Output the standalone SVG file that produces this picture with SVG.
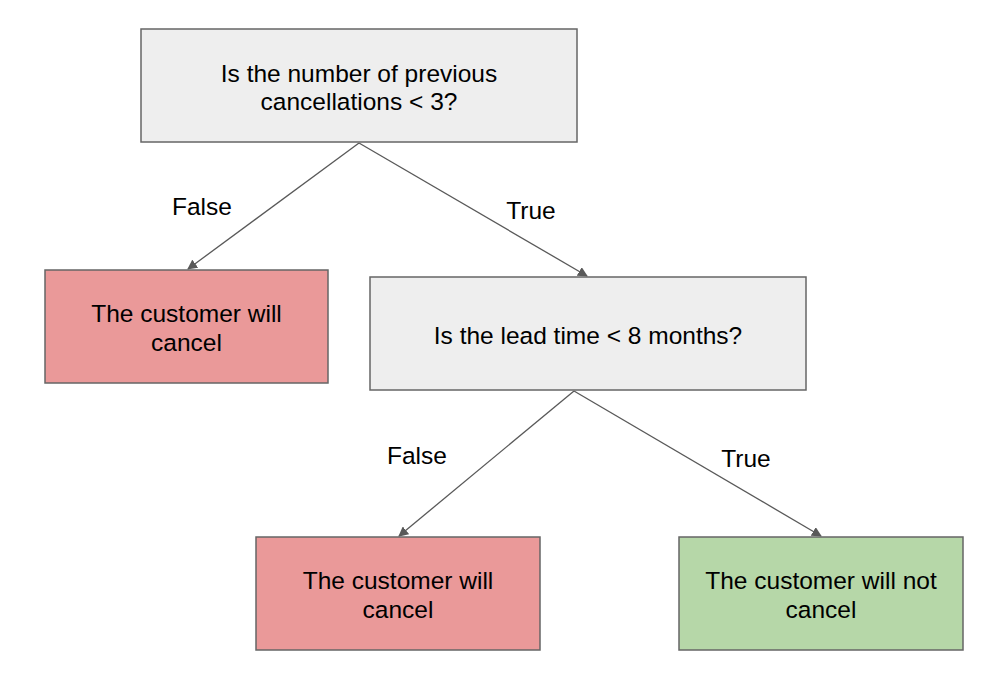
<svg xmlns="http://www.w3.org/2000/svg" width="999" height="680" viewBox="0 0 999 680">
<style>
.box{stroke:#666666;stroke-width:1.5}
.grey{fill:#eeeeee}
.red{fill:#ea9999}
.green{fill:#b6d7a8}
text{font-family:"Liberation Sans",Arial,sans-serif;font-size:24.5px;fill:#000000;text-anchor:middle}
.edge{stroke:#595959;stroke-width:1.3;fill:none;marker-end:url(#arr)}
</style>
<defs>
<marker id="arr" viewBox="0 0 10 10" refX="9" refY="5" markerWidth="10" markerHeight="10" markerUnits="userSpaceOnUse" orient="auto">
<path d="M0,0 L10,5 L0,10 z" fill="#595959"/>
</marker>
</defs>
<rect width="999" height="680" fill="#ffffff"/>
<g id="connectors">
<line class="edge" x1="359" y1="143" x2="188" y2="269"/>
<line class="edge" x1="359" y1="143" x2="587" y2="276"/>
<line class="edge" x1="574" y1="391" x2="399" y2="536"/>
<line class="edge" x1="574" y1="391" x2="821" y2="536"/>
<text x="202" y="215">False</text>
<text x="531" y="219">True</text>
<text x="417" y="464">False</text>
<text x="746" y="467">True</text>
</g>
<g id="root">
<rect class="box grey" x="141" y="29" width="436" height="113"/>
<text x="359" y="82">Is the number of previous</text>
<text x="359" y="110">cancellations &lt; 3?</text>
</g>
<g id="cancel1">
<rect class="box red" x="45" y="270" width="283" height="113"/>
<text x="186.5" y="322">The customer will</text>
<text x="186.5" y="351">cancel</text>
</g>
<g id="leadtime">
<rect class="box grey" x="370" y="277" width="436" height="113"/>
<text x="588" y="344">Is the lead time &lt; 8 months?</text>
</g>
<g id="cancel2">
<rect class="box red" x="256" y="537" width="284" height="113"/>
<text x="398" y="589">The customer will</text>
<text x="398" y="618">cancel</text>
</g>
<g id="notcancel">
<rect class="box green" x="679" y="537" width="284" height="113"/>
<text x="821" y="589">The customer will not</text>
<text x="821" y="618">cancel</text>
</g>
</svg>
